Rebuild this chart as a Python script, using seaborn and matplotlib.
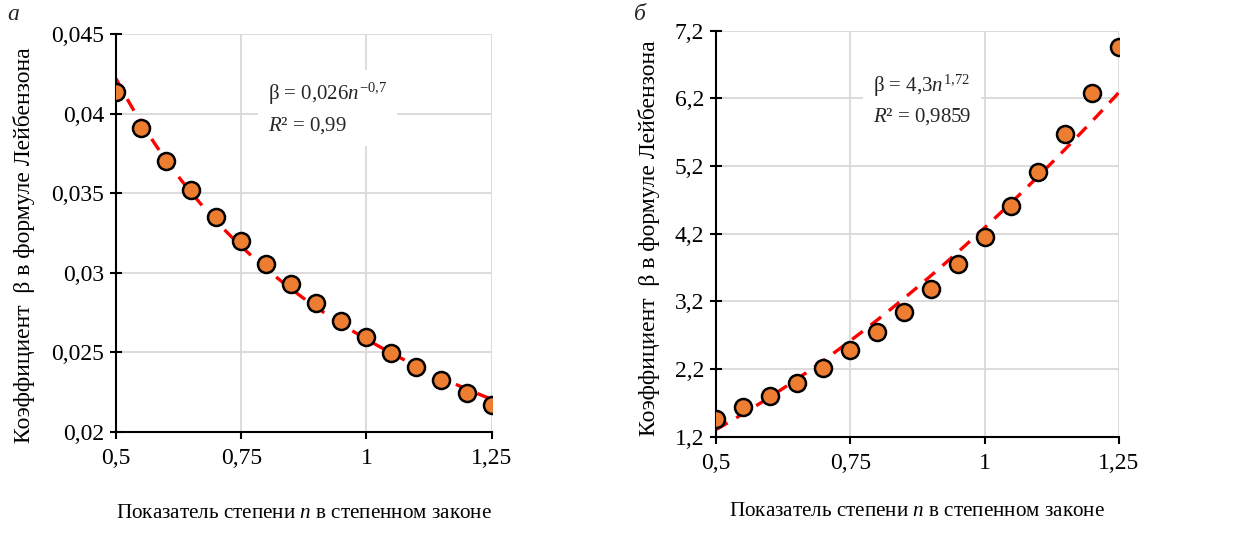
import numpy as np
import pandas as pd
import matplotlib
matplotlib.use("Agg")
import matplotlib.pyplot as plt
from matplotlib.ticker import FuncFormatter
import seaborn as sns

# values
n_vals = [0.5, 0.55, 0.6, 0.65, 0.7, 0.75, 0.8, 0.85, 0.9, 0.95,
          1.0, 1.05, 1.1, 1.15, 1.2, 1.25]
beta_a = [0.04139, 0.03909, 0.03703, 0.03521, 0.03351, 0.03202, 0.03057, 0.02927,
          0.02808, 0.02698, 0.02594, 0.02497, 0.02407, 0.02325, 0.02245, 0.02168]
beta_b = [1.457, 1.634, 1.806, 1.998, 2.220, 2.477, 2.743, 3.043,
          3.378, 3.748, 4.151, 4.609, 5.112, 5.669, 6.279, 6.964]

x_ticks = [0.5, 0.75, 1.0, 1.25]
y_ticks_a = [0.02, 0.025, 0.03, 0.035, 0.04, 0.045]
y_ticks_b = [1.2, 2.2, 3.2, 4.2, 5.2, 6.2, 7.2]

eq_a = r"β = 0,026$n^{−0{,}7}$"
r2_a = r"$R$² = 0,99"
eq_b = r"β = 4,3$n^{1{,}72}$"
r2_b = r"$R$² = 0,9859"

xlabel = "Показатель степени $n$ в степенном законе"
ylabel = "Коэффициент  β в формуле Лейбензона"

sns.set_theme(style="whitegrid")
plt.rcParams["font.family"] = ["Liberation Serif", "DejaVu Serif"]
plt.rcParams["mathtext.fontset"] = "custom"
plt.rcParams["mathtext.rm"] = "Liberation Serif"
plt.rcParams["mathtext.it"] = "Liberation Serif:italic"
plt.rcParams["mathtext.bf"] = "Liberation Serif:bold"

comma = FuncFormatter(lambda v, p: f"{v:g}".replace(".", ","))


def power_fit(x, y):
    b, ln_a = np.polyfit(np.log(x), np.log(y), 1)
    xs = np.linspace(min(x), max(x), 100)
    return xs, np.exp(ln_a) * xs ** b


def panel(ax, y, yticks, eq, r2, txt_xy, lab_x, lab_y, xlab_y):
    df = pd.DataFrame({"n": n_vals, "beta": y})
    xs, ys = power_fit(df["n"], df["beta"])
    sns.lineplot(x=xs, y=ys, ax=ax, color="#ff0000", linewidth=2.4,
                 dashes=False, zorder=2).lines[0].set_dashes([4, 3])
    sns.scatterplot(data=df, x="n", y="beta", ax=ax, s=150, color="#ED7D31",
                    edgecolor="black", linewidth=1.8, zorder=3)
    ax.set_xlim(0.5, 1.25)
    ax.set_ylim(yticks[0], yticks[-1])
    ax.set_xticks(x_ticks)
    ax.set_yticks(yticks)
    ax.xaxis.set_major_formatter(comma)
    ax.yaxis.set_major_formatter(comma)
    ax.grid(True, color="#d9d9d9", linewidth=1.3)
    for s in ["top", "right"]:
        ax.spines[s].set_visible(False)
    for s in ["left", "bottom"]:
        ax.spines[s].set_color("black")
        ax.spines[s].set_linewidth(1.5)
    ax.tick_params(axis="y", direction="inout", length=9, width=1.5,
                   color="black", labelsize=17, pad=4, left=True)
    ax.tick_params(axis="x", direction="out", length=5, width=1.5,
                   color="black", labelsize=17, pad=7, bottom=True)
    for lab in ax.get_xticklabels() + ax.get_yticklabels():
        lab.set_color("black")
    ax.set_xlabel(xlabel, fontsize=15.2, color="black")
    ax.set_ylabel(ylabel, fontsize=17, color="black")
    ax.xaxis.set_label_coords(0.5, xlab_y)
    ax.yaxis.set_label_coords(lab_x, lab_y)
    ax.text(txt_xy[0], txt_xy[1], eq + "\n" + r2, transform=ax.transAxes,
            fontsize=15, ha="left", va="center", linespacing=1.5,
            bbox=dict(facecolor="white", edgecolor="none", pad=7), zorder=4)


fig = plt.figure(figsize=(12.35, 5.33), dpi=100)
ax1 = fig.add_axes([0.094, 0.19, 0.304, 0.7456])
ax2 = fig.add_axes([0.5798, 0.1807, 0.3262, 0.7617])

panel(ax1, beta_a, y_ticks_a, eq_a, r2_a, (0.405, 0.813), -0.215, 0.47, -0.182)
panel(ax2, beta_b, y_ticks_b, eq_b, r2_b, (0.39, 0.83), -0.139, 0.488, -0.16)

fig.text(0.006, 0.972, "а", fontsize=17, style="italic", va="center")
fig.text(0.513, 0.972, "б", fontsize=17, style="italic", va="center")

fig.savefig("out.png", dpi=100, facecolor="white")
